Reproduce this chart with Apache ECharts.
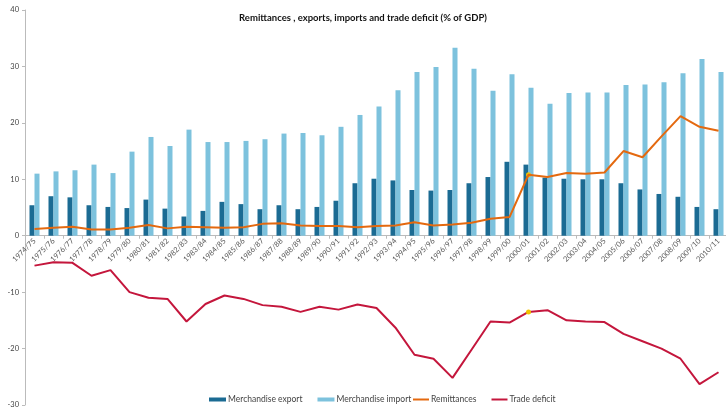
<!DOCTYPE html>
<html>
<head>
<meta charset="utf-8">
<script src="https://cdn.jsdelivr.net/npm/echarts@6/dist/echarts.min.js"></script>
<style>html,body{margin:0;padding:0;background:#fff;}#c{width:726px;height:411px;}</style>
</head>
<body>
<div id="c"></div>
<script>
const categories = ['1974/75','1975/76','1976/77','1977/78','1978/79','1979/80','1980/81','1981/82','1982/83','1983/84','1984/85','1985/86','1986/87','1987/88','1988/89','1989/90','1990/91','1991/92','1992/93','1993/94','1994/95','1995/96','1996/97','1997/98','1998/99','1999/00','2000/01','2001/02','2002/03','2003/04','2004/05','2005/06','2006/07','2007/08','2008/09','2009/10','2010/11'];
const merchExport = [5.4,7.0,6.8,5.4,5.1,4.9,6.4,4.8,3.4,4.4,6.0,5.6,4.7,5.4,4.7,5.1,6.2,9.3,10.1,9.8,8.1,8.0,8.1,9.3,10.4,13.1,12.6,10.3,10.1,10.0,10.0,9.3,8.2,7.4,6.9,5.1,4.7];
const merchImport = [11.0,11.4,11.6,12.6,11.1,14.9,17.5,15.9,18.8,16.6,16.6,16.8,17.1,18.1,18.2,17.8,19.3,21.4,22.9,25.8,29.0,29.9,33.3,29.6,25.7,28.6,26.2,23.4,25.3,25.4,25.4,26.7,26.8,27.2,28.8,31.3,29.0];
const remittances = [1.2,1.4,1.6,1.1,1.1,1.4,1.9,1.3,1.6,1.5,1.4,1.5,2.1,2.2,1.8,1.7,1.7,1.5,1.7,1.8,2.4,1.8,2.0,2.3,3.0,3.3,10.8,10.4,11.1,11.0,11.2,15.0,13.9,17.6,21.2,19.3,18.6];
const tradeDeficit = [-5.3,-4.7,-4.8,-7.1,-6.1,-10.0,-11.0,-11.2,-15.2,-12.1,-10.6,-11.2,-12.3,-12.6,-13.5,-12.6,-13.1,-12.2,-12.8,-16.3,-21.1,-21.8,-25.2,-20.2,-15.2,-15.4,-13.5,-13.2,-15.0,-15.2,-15.3,-17.4,-18.7,-20.0,-21.8,-26.3,-24.2];
const highlightIndex = 26;
const yMin = -30, yMax = 40;

const font = 'Lato';
const gridTop = 10, gridHeight = 395;
const zeroOffset = -gridHeight * (0 - yMin) / (yMax - yMin);

const chart = echarts.init(document.getElementById('c'), null, {renderer: 'canvas'});
chart.setOption({
  animation: false,
  backgroundColor: '#fff',
  textStyle: {fontFamily: font},
  title: {
    text: 'Remittances , exports, imports and trade deficit (% of GDP)',
    left: 'center', top: 8,
    textStyle: {fontFamily: font, fontSize: 9.5, fontWeight: 'bold', color: '#111'}
  },
  legend: [{
    data: ['Merchandise export', 'Merchandise import'],
    left: 204, top: 390, itemWidth: 17, itemHeight: 4, itemGap: 15, icon: 'rect',
    textStyle: {fontFamily: font, fontSize: 8.5, color: '#444', padding: [0,0,0,-3]}
  }, {
    data: ['Remittances', 'Trade deficit'],
    left: 408, top: 390, itemWidth: 16, itemHeight: 2, itemGap: 15, icon: 'rect',
    textStyle: {fontFamily: font, fontSize: 8.5, color: '#444', padding: [0,0,0,-3]}
  }],
  grid: {left: 25, top: gridTop, width: 703, height: gridHeight, outerBoundsMode: 'none'},
  xAxis: {
    type: 'category', data: categories, position: 'bottom', offset: zeroOffset,
    axisLine: {onZero: false, lineStyle: {color: '#bbb', width: 1}},
    axisTick: {show: true, length: 3, lineStyle: {color: '#bbb'}},
    axisLabel: {interval: 0, rotate: 45, fontFamily: font, fontSize: 7.5, color: '#555', margin: 4}
  },
  yAxis: {
    type: 'value', min: yMin, max: yMax, interval: 10,
    splitLine: {show: false},
    axisLine: {show: true, lineStyle: {color: '#bbb', width: 1}},
    axisTick: {show: true, length: 3, lineStyle: {color: '#bbb'}},
    axisLabel: {fontFamily: font, fontSize: 7.5, color: '#444', margin: 6}
  },
  series: [{
    name: 'Merchandise export', type: 'bar', data: merchExport,
    barWidth: 5, barGap: '0%', itemStyle: {color: '#1b6b93'}
  }, {
    name: 'Merchandise import', type: 'bar', data: merchImport,
    barWidth: 5, barGap: '0%', itemStyle: {color: '#7dc2dd'}
  }, {
    name: 'Remittances', type: 'line', data: remittances,
    symbol: 'none', lineStyle: {color: '#e4690f', width: 2}, itemStyle: {color: '#e4690f'},
    z: 5,
    markPoint: {
      symbol: 'circle', symbolSize: 5, label: {show: false},
      itemStyle: {color: '#f2c200'},
      data: [{coord: [categories[highlightIndex], remittances[highlightIndex]]}]
    }
  }, {
    name: 'Trade deficit', type: 'line', data: tradeDeficit,
    symbol: 'none', lineStyle: {color: '#c4163c', width: 2}, itemStyle: {color: '#c4163c'},
    z: 1,
    markPoint: {
      symbol: 'circle', symbolSize: 5, label: {show: false},
      itemStyle: {color: '#f2c200'},
      data: [{coord: [categories[highlightIndex], tradeDeficit[highlightIndex]]}]
    }
  }]
});
</script>
</body>
</html>
